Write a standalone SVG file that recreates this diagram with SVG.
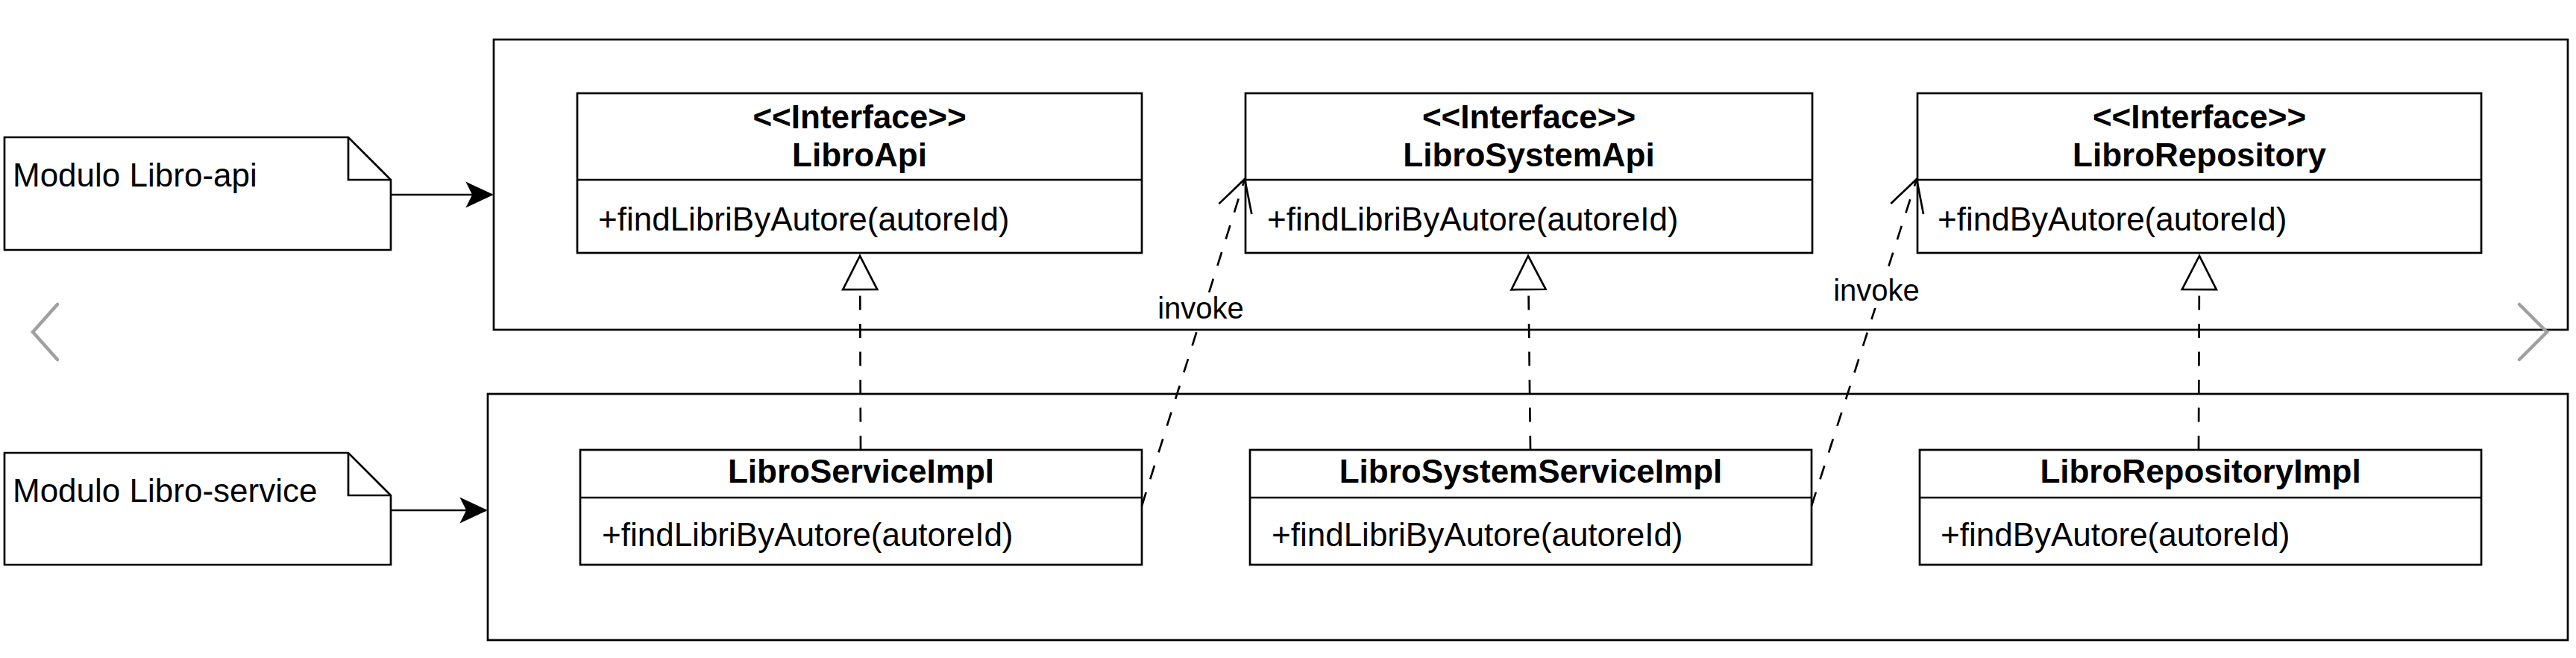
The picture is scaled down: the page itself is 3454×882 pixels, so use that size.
<svg xmlns="http://www.w3.org/2000/svg" width="3454" height="882" viewBox="0 0 3454 882">
  <style>
    .box { fill: #ffffff; stroke: #000000; stroke-width: 2.7; }
    .line { fill: none; stroke: #000000; stroke-width: 2.7; }
    .dash { fill: none; stroke: #000000; stroke-width: 2.7; stroke-dasharray: 19 18.5; }
    .t { font-family: "Liberation Sans", Arial, Helvetica, sans-serif; font-size: 44px; fill: #000000; }
    .b { font-weight: bold; text-anchor: middle; }
    .lbl { font-family: "Liberation Sans", Arial, Helvetica, sans-serif; font-size: 40px; fill: #000000; text-anchor: middle; }
    .chev { fill: none; stroke: #a0a0a0; stroke-width: 4.5; stroke-linecap: round; stroke-linejoin: miter; }
  </style>
  <defs>
    <marker id="filled" markerUnits="userSpaceOnUse" viewBox="-36 -18 38 36" refX="0" refY="0" markerWidth="38" markerHeight="36" orient="auto">
      <path d="M0,0 L-34,-16 L-26,0 L-34,16 Z" fill="#000000" stroke="#000000" stroke-width="1.5" stroke-linejoin="miter"/>
    </marker>
    <marker id="realize" markerUnits="userSpaceOnUse" viewBox="-50 -28 54 56" refX="0" refY="0" markerWidth="54" markerHeight="56" orient="auto">
      <path d="M0,0 L-45,-23 L-45,23 Z" fill="#ffffff" stroke="#000000" stroke-width="2.7" stroke-dasharray="none"/>
    </marker>
    <marker id="open" markerUnits="userSpaceOnUse" viewBox="-48 -28 52 56" refX="0" refY="0" markerWidth="52" markerHeight="56" orient="auto">
      <path d="M-42,-23 L0,0 L-42,23" fill="none" stroke="#000000" stroke-width="2.7" stroke-dasharray="none"/>
    </marker>
  </defs>

  <rect width="3454" height="882" fill="#ffffff"/>

  <g id="module-api">
    <rect class="box" x="662" y="53" width="2781" height="389"/>
  </g>
  <g id="module-service">
    <rect class="box" x="654" y="528" width="2789" height="330"/>
  </g>

  <g id="note-api">
    <path class="box" d="M6,184 H467 L524,241 V335 H6 Z"/>
    <path class="line" d="M467,184 V241 H524"/>
    <text class="t" x="17" y="250">Modulo Libro-api</text>
  </g>
  <g id="note-service">
    <path class="box" d="M6,607 H467 L524,664 V757 H6 Z"/>
    <path class="line" d="M467,607 V664 H524"/>
    <text class="t" x="17" y="673">Modulo Libro-service</text>
  </g>

  <g id="LibroApi">
    <rect class="box" x="774" y="125" width="757" height="214"/>
    <line class="line" x1="774" y1="241" x2="1531" y2="241"/>
    <text class="t b" x="1152.5" y="172">&lt;&lt;Interface&gt;&gt;</text>
    <text class="t b" x="1152.5" y="223">LibroApi</text>
    <text class="t" x="802" y="309">+findLibriByAutore(autoreId)</text>
  </g>
  <g id="LibroSystemApi">
    <rect class="box" x="1670" y="125" width="760" height="214"/>
    <line class="line" x1="1670" y1="241" x2="2430" y2="241"/>
    <text class="t b" x="2050" y="172">&lt;&lt;Interface&gt;&gt;</text>
    <text class="t b" x="2050" y="223">LibroSystemApi</text>
    <text class="t" x="1699" y="309">+findLibriByAutore(autoreId)</text>
  </g>
  <g id="LibroRepository">
    <rect class="box" x="2571" y="125" width="756" height="214"/>
    <line class="line" x1="2571" y1="241" x2="3327" y2="241"/>
    <text class="t b" x="2949" y="172">&lt;&lt;Interface&gt;&gt;</text>
    <text class="t b" x="2949" y="223">LibroRepository</text>
    <text class="t" x="2598" y="309">+findByAutore(autoreId)</text>
  </g>

  <g id="LibroServiceImpl">
    <rect class="box" x="778" y="603" width="753" height="154"/>
    <line class="line" x1="778" y1="667" x2="1531" y2="667"/>
    <text class="t b" x="1154.5" y="647">LibroServiceImpl</text>
    <text class="t" x="807" y="732">+findLibriByAutore(autoreId)</text>
  </g>
  <g id="LibroSystemServiceImpl">
    <rect class="box" x="1676" y="603" width="753" height="154"/>
    <line class="line" x1="1676" y1="667" x2="2429" y2="667"/>
    <text class="t b" x="2052.5" y="647">LibroSystemServiceImpl</text>
    <text class="t" x="1705" y="732">+findLibriByAutore(autoreId)</text>
  </g>
  <g id="LibroRepositoryImpl">
    <rect class="box" x="2574" y="603" width="753" height="154"/>
    <line class="line" x1="2574" y1="667" x2="3327" y2="667"/>
    <text class="t b" x="2950.5" y="647">LibroRepositoryImpl</text>
    <text class="t" x="2602" y="732">+findByAutore(autoreId)</text>
  </g>

  <g id="connectors">
    <line class="line" x1="524" y1="261" x2="660" y2="261" marker-end="url(#filled)"/>
    <line class="line" x1="524" y1="684" x2="652" y2="684" marker-end="url(#filled)"/>

    <path class="dash" d="M1154,603 L1153,343" marker-end="url(#realize)"/>
    <path class="dash" d="M2052,603 L2049,343" marker-end="url(#realize)"/>
    <path class="dash" d="M2948,603 L2949,343" marker-end="url(#realize)"/>

    <path class="dash" d="M1531,678 L1669,240" marker-end="url(#open)"/>
    <path class="dash" d="M2429,678 L2570,240" marker-end="url(#open)"/>

    <rect x="1550" y="393" width="120" height="44" fill="#ffffff"/>
    <text class="lbl" x="1610" y="427">invoke</text>
    <rect x="2456" y="369" width="120" height="44" fill="#ffffff"/>
    <text class="lbl" x="2516" y="403">invoke</text>
  </g>

  <g id="nav">
    <polyline class="chev" points="77,408 44,445 77,482"/>
    <polyline class="chev" points="3378,408 3415,445 3378,482"/>
  </g>
</svg>
